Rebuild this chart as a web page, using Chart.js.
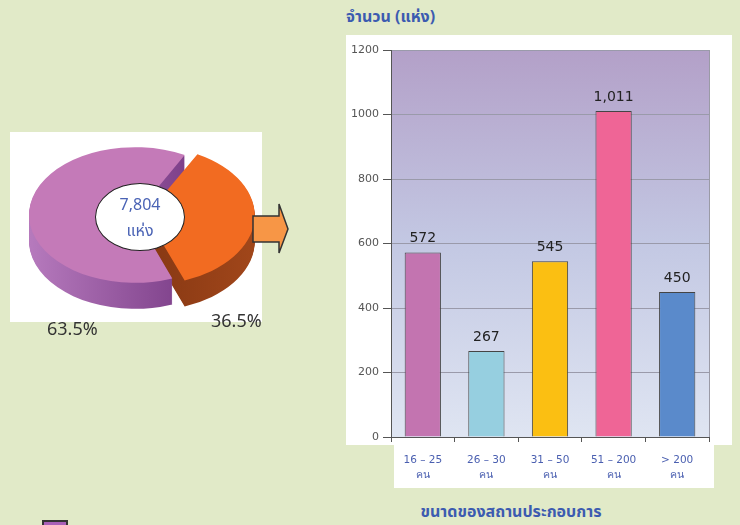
<!DOCTYPE html>
<html lang="th">
<head>
    <meta charset="UTF-8">
    <title>ขนาดของสถานประกอบการ</title>
    <script src="https://cdn.jsdelivr.net/npm/chart.js"></script>
    <style>
        body {
            margin: 0;
            width: 740px;
            height: 525px;
            background: #e1eac8;
            position: relative;
            overflow: hidden;
            font-family: "Noto Sans Thai", Tahoma, "DejaVu Sans", sans-serif;
        }
        .abs { position: absolute; }
        .white { background: #fff; }
        .centerLabel {
            left: 95px; top: 183px; width: 90px; height: 68px;
            border: 1.5px solid #222; border-radius: 50%;
            background: #fff; color: #4a63b5; text-align: center;
            font-size: 16px; line-height: 26px; padding-top: 8px; box-sizing: border-box;
        }
        .pct { font-size: 18px; color: #333; }
        .blueText { color: #3c5bb0; }
    </style>
</head>
<body>
    <div class="abs white" style="left:10px;top:132px;width:252px;height:190px;"></div>
    <canvas id="pie" class="abs" width="260" height="260" style="left:5px;top:85px;"></canvas>
    <div class="abs centerLabel"><span id="total"></span><br>แห่ง</div>
    <div id="pct0" class="abs pct" style="left:211px;top:308px;"></div>
    <div id="pct1" class="abs pct" style="left:47px;top:316px;"></div>

    <svg class="abs" style="left:250px;top:200px;" width="42" height="56">
        <polygon points="3,16 29,16 29,4 38,29 29,53 29,42 3,42" fill="#f79646" stroke="#333" stroke-width="1.5"/>
    </svg>

    <div class="abs blueText" style="left:346px;top:5px;font-size:16px;font-weight:bold;">จำนวน (แห่ง)</div>
    <div class="abs white" style="left:346px;top:35px;width:386px;height:410px;"></div>
    <div class="abs white" style="left:394px;top:445px;width:320px;height:43px;"></div>
    <canvas id="bar" class="abs" width="386" height="453" style="left:346px;top:35px;"></canvas>
    <div class="abs blueText" style="left:346px;top:500px;width:330px;text-align:center;font-size:16px;font-weight:bold;">ขนาดของสถานประกอบการ</div>

    <div class="abs" style="left:42px;top:520px;width:22px;height:10px;background:#a860b8;border:2px solid #333;"></div>

    <script>
        // สัดส่วนสถานประกอบการ (%)
        const pieValues = [36.5, 63.5];
        const pieColors = ['#f26b21', '#c47ab8'];
        const pieTotal = 7804;

        // จำนวนสถานประกอบการ แยกตามขนาด
        const sizeLabels = [['16 – 25', 'คน'], ['26 – 30', 'คน'], ['31 – 50', 'คน'], ['51 – 200', 'คน'], ['> 200', 'คน']];
        const counts = [572, 267, 545, 1011, 450];
        const barColors = ['#c374b0', '#96cfe0', '#fbbf12', '#ef6596', '#5a8acb'];
        const yTicks = [0, 200, 400, 600, 800, 1000, 1200];

        document.getElementById('total').textContent = pieTotal.toLocaleString('en-US');
        document.getElementById('pct0').textContent = pieValues[0] + '%';
        document.getElementById('pct1').textContent = pieValues[1] + '%';

        // พายแบบ 3 มิติ: บีบแนวตั้ง + วาดด้านข้าง
        const squash = 0.64;
        const depth = 26;
        const pie3d = {
            id: 'pie3d',
            beforeDatasetsDraw(chart) {
                const ctx = chart.ctx;
                const arcs = chart.getDatasetMeta(0).data;
                const cy = arcs[0].y, cx = arcs[0].x, r = arcs[0].outerRadius;
                const sides = [
                    ['#6e2a0c', '#a0461a'],
                    ['#b67abd', '#6a2c78']
                ];
                for (let d = depth; d >= 1; d--) {
                    arcs.forEach((el, i) => {
                        const g = ctx.createLinearGradient(cx - r, 0, cx + r, 0);
                        g.addColorStop(0, sides[i][0]);
                        g.addColorStop(1, sides[i][1]);
                        const orig = el.options;
                        el.options = Object.assign({}, orig, { backgroundColor: g, borderColor: g, borderWidth: 0 });
                        ctx.save();
                        ctx.translate(0, cy + d);
                        ctx.scale(1, squash);
                        ctx.translate(0, -cy);
                        el.draw(ctx);
                        ctx.restore();
                        el.options = orig;
                    });
                }
                ctx.save();
                ctx.translate(0, cy);
                ctx.scale(1, squash);
                ctx.translate(0, -cy);
            },
            afterDatasetsDraw(chart) {
                chart.ctx.restore();
            }
        };

        new Chart(document.getElementById('pie'), {
            type: 'pie',
            data: {
                labels: ['A', 'B'],
                datasets: [{
                    data: pieValues,
                    backgroundColor: pieColors,
                    borderWidth: 0,
                    offset: [44, 0],
                    radius: 106
                }]
            },
            options: {
                responsive: false,
                animation: false,
                rotation: 28,
                plugins: { legend: { display: false }, tooltip: { enabled: false } }
            },
            plugins: [pie3d]
        });

        // พื้นหลังไล่สีของพื้นที่กราฟ
        const plotBg = {
            id: 'plotBg',
            beforeDraw(chart) {
                const { ctx, chartArea: a } = chart;
                const g = ctx.createLinearGradient(0, a.top, 0, a.bottom);
                g.addColorStop(0, '#b3a0c8');
                g.addColorStop(0.5, '#c3c8e3');
                g.addColorStop(1, '#dfe5f2');
                ctx.save();
                ctx.fillStyle = g;
                ctx.fillRect(a.left, a.top, a.right - a.left, a.bottom - a.top);
                ctx.strokeStyle = '#9a9aa6';
                ctx.lineWidth = 1;
                ctx.strokeRect(a.left + 0.5, a.top + 0.5, a.right - a.left, a.bottom - a.top);
                ctx.restore();
            }
        };

        // ค่าบนแท่ง
        const barValues = {
            id: 'barValues',
            afterDatasetsDraw(chart) {
                const ctx = chart.ctx;
                ctx.save();
                ctx.font = '14px "DejaVu Sans", sans-serif';
                ctx.fillStyle = '#222';
                ctx.textAlign = 'center';
                ctx.textBaseline = 'bottom';
                chart.getDatasetMeta(0).data.forEach((bar, i) => {
                    ctx.fillText(counts[i].toLocaleString('en-US'), bar.x, bar.y - 7);
                });
                ctx.restore();
            }
        };

        new Chart(document.getElementById('bar'), {
            type: 'bar',
            data: {
                labels: sizeLabels,
                datasets: [{
                    data: counts,
                    backgroundColor: barColors,
                    borderColor: '#444',
                    borderWidth: 1,
                    barPercentage: 0.57,
                    categoryPercentage: 1
                }]
            },
            options: {
                responsive: false,
                animation: false,
                layout: { padding: { top: 15, right: 23, left: 0, bottom: 0 } },
                plugins: { legend: { display: false }, tooltip: { enabled: false } },
                scales: {
                    x: {
                        afterFit(s) { s.height = 51; },
                        grid: { drawOnChartArea: false, tickLength: 5, tickColor: '#555' },
                        border: { color: '#555' },
                        ticks: {
                            color: '#4a5fb0',
                            padding: 11,
                            font: { size: 10.5, family: '"DejaVu Sans", sans-serif', lineHeight: 1.4 }
                        }
                    },
                    y: {
                        min: yTicks[0],
                        max: yTicks[yTicks.length - 1],
                        afterFit(s) { s.width = 45; },
                        grid: { color: '#9a9aaa', tickLength: 8, tickColor: '#555' },
                        border: { color: '#555' },
                        ticks: {
                            stepSize: yTicks[1] - yTicks[0],
                            callback: v => String(v),
                            color: '#555',
                            padding: 4,
                            font: { size: 11, family: '"DejaVu Sans", sans-serif' }
                        }
                    }
                }
            },
            plugins: [plotBg, barValues]
        });
    </script>
</body>
</html>
